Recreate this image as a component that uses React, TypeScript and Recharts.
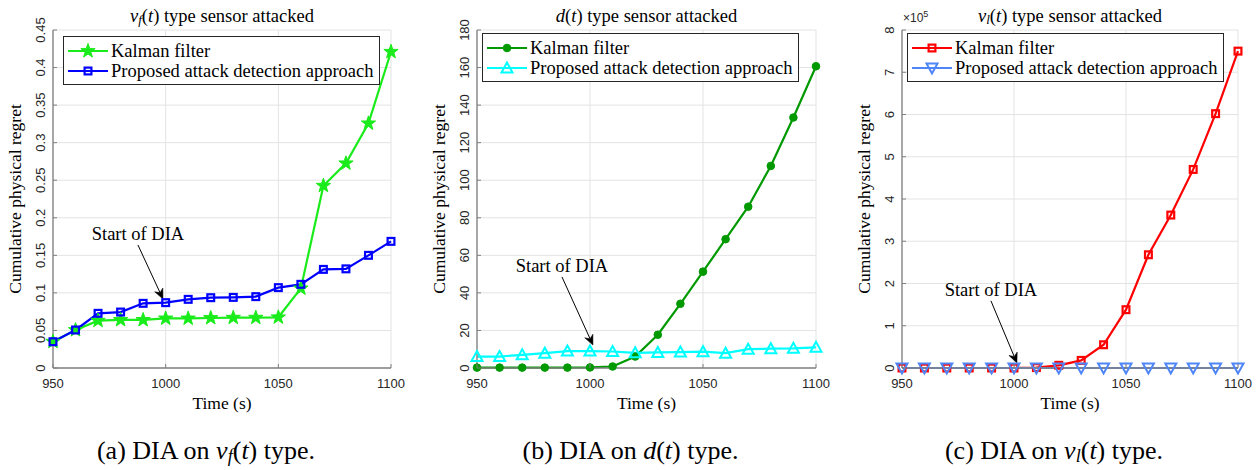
import React from "react"
import { LineChart, Line, XAxis, YAxis, CartesianGrid, Legend, ReferenceLine } from "recharts"

// time stamps (s)
const TIME = [950, 960, 970, 980, 990, 1000, 1010, 1020, 1030, 1040, 1050, 1060, 1070, 1080, 1090, 1100]
const TIME_TICKS = [950, 1000, 1050, 1100]

// (a) v_f(t) sensor attacked
const KF_VF = [0.035, 0.0506, 0.063, 0.064, 0.064, 0.066, 0.066, 0.0666, 0.067, 0.067, 0.0675, 0.106, 0.2427, 0.2725, 0.3257, 0.421]
const PROP_VF = [0.035, 0.0506, 0.0728, 0.0745, 0.0861, 0.087, 0.0914, 0.0936, 0.094, 0.095, 0.107, 0.1114, 0.1313, 0.132, 0.15, 0.1686]
const TICKS_VF = [0, 0.05, 0.1, 0.15, 0.2, 0.25, 0.3, 0.35, 0.4, 0.45]

// (b) d(t) sensor attacked
const KF_D = [0.2, 0.2, 0.2, 0.2, 0.2, 0.3, 0.8, 6.1, 17.7, 34.2, 51.3, 68.6, 85.9, 107.6, 133.4, 160.7]
const PROP_D = [6.1, 6.1, 7, 7.9, 9, 9, 8.8, 8.1, 8.3, 8.5, 8.7, 7.9, 10, 10.3, 10.5, 11]
const TICKS_D = [0, 20, 40, 60, 80, 100, 120, 140, 160, 180]

// (c) v_l(t) sensor attacked
const KF_VL = [0, 0, 0, 0, 0, 0, 1000, 6400, 18000, 55000, 138000, 268000, 362000, 470000, 602000, 750000]
const PROP_VL = [0, 0, 0, 0, 0, 0, 0, 0, 0, 0, 0, 0, 0, 0, 0, 0]
const TICKS_VL = [0, 100000, 200000, 300000, 400000, 500000, 600000, 700000, 800000]

// "Start of DIA" arrows: [tail time, tail value, tip time, tip value]
const DIA_VF = [987.7, 0.1638, 998.8, 0.0919]
const DIA_D = [987.6, 48.5, 1001.3, 12.2]
const DIA_VL = [989.7, 159000, 1001.3, 11900]

const AXIS = "#808080"
const GRID = "#e3e3e3"
const TXT = "#262626"
const SERIF = "'Liberation Serif', 'DejaVu Serif', 'Times New Roman', serif"
const SANS = "'Liberation Sans', Arial, sans-serif"

type Shape = "star" | "square" | "circle" | "triUp" | "triDown"

function Marker({ cx, cy, shape, color }: { cx: number; cy: number; shape: Shape; color: string }) {
  if (cx == null || cy == null || isNaN(cx) || isNaN(cy)) return null
  if (shape === "star") {
    const pts: string[] = []
    for (let i = 0; i < 10; i++) {
      const r = i % 2 === 0 ? 7.5 : 3
      const a = -Math.PI / 2 + (i * Math.PI) / 5
      pts.push(`${cx + r * Math.cos(a)},${cy + r * Math.sin(a)}`)
    }
    return <polygon points={pts.join(" ")} fill={color} stroke={color} strokeWidth={1} />
  }
  if (shape === "square") {
    return <rect x={cx - 3.4} y={cy - 3.4} width={6.8} height={6.8} fill="none" stroke={color} strokeWidth={2.2} />
  }
  if (shape === "circle") {
    return <circle cx={cx} cy={cy} r={3.8} fill={color} stroke={color} strokeWidth={1} />
  }
  const s = shape === "triUp" ? 1 : -1
  const pts = `${cx},${cy - s * 5.5} ${cx - 5.5},${cy + s * 4.5} ${cx + 5.5},${cy + s * 4.5}`
  return <polygon points={pts} fill="none" stroke={color} strokeWidth={2} strokeLinejoin="miter" />
}

function BottomTick(props: any) {
  const { x, y, payload } = props
  return (
    <g>
      <line x1={x} y1={y} x2={x} y2={y - 4} stroke={AXIS} />
      <text x={x} y={y + 15} dy="0.35em" textAnchor="middle" fontSize={13} fill={TXT} fontFamily={SANS}>
        {payload.value}
      </text>
    </g>
  )
}

function TopTick(props: any) {
  const { x, y } = props
  return <line x1={x} y1={y} x2={x} y2={y + 4} stroke={AXIS} />
}

function RightTick(props: any) {
  const { x, y } = props
  return <line x1={x} y1={y} x2={x - 4} y2={y} stroke={AXIS} />
}

function makeLeftTick(fmt: (v: number) => string) {
  return (props: any) => {
    const { x, y, payload } = props
    const tx = x - 13
    return (
      <g>
        <line x1={x} y1={y} x2={x + 4} y2={y} stroke={AXIS} />
        <text
          x={tx}
          y={y}
          dy="0.35em"
          textAnchor="middle"
          fontSize={13}
          fill={TXT}
          fontFamily={SANS}
          transform={`rotate(-90, ${tx}, ${y})`}
        >
          {fmt(payload.value)}
        </text>
      </g>
    )
  }
}

function Arrow(props: any) {
  const { x1, y1, x2, y2 } = props
  const dx = x2 - x1
  const dy = y2 - y1
  const len = Math.sqrt(dx * dx + dy * dy) || 1
  const ux = dx / len
  const uy = dy / len
  const hl = 10
  const hw = 4.5
  const bx = x2 - ux * hl
  const by = y2 - uy * hl
  const head = `${x2},${y2} ${bx - uy * hw},${by + ux * hw} ${bx + ux * 3},${by + uy * 3} ${bx + uy * hw},${by - ux * hw}`
  return (
    <g>
      <line x1={x1} y1={y1} x2={bx + ux * 3} y2={by + uy * 3} stroke="#000" strokeWidth={1} />
      <polygon points={head} fill="#000" stroke="#000" strokeWidth={0.5} />
      <text x={x1} y={y1 - 5} textAnchor="middle" fontSize={18.5} fontFamily={SERIF} fill="#000">
        Start of DIA
      </text>
    </g>
  )
}

type Series = { name: string; values: number[]; color: string; shape: Shape }

function LegendBox({ series }: { series: Series[] }) {
  return (
    <div
      style={{
        border: "1px solid #262626",
        background: "#fff",
        padding: "4px 5px 3px 2px",
        fontFamily: SERIF,
        fontSize: 18.5,
        color: "#000",
        whiteSpace: "nowrap",
      }}
    >
      {series.map((s) => (
        <div key={s.name} style={{ display: "flex", alignItems: "center", height: 20 }}>
          <svg width={44} height={20} style={{ flex: "none" }}>
            <line x1={2} y1={10} x2={42} y2={10} stroke={s.color} strokeWidth={2.2} />
            <Marker cx={22} cy={10} shape={s.shape} color={s.color} />
          </svg>
          <span style={{ marginLeft: 1 }}>{s.name}</span>
        </div>
      ))}
    </div>
  )
}

type PanelProps = {
  left: number
  width: number
  plotL: number
  plotR: number
  yDomain: [number, number]
  yTicks: number[]
  fmt: (v: number) => string
  series: Series[]
  dia: number[]
  title: React.ReactNode
  caption: React.ReactNode
  legendPos: { left: number; top: number }
}

const TOP = 30
const BOTTOM = 368
const H = 400

function Panel(p: PanelProps) {
  const data = TIME.map((t, i) => {
    const row: Record<string, number> = { t }
    p.series.forEach((s, k) => {
      row["s" + k] = s.values[i]
    })
    return row
  })
  const yW = p.plotL - p.left
  const rightM = p.left + p.width - p.plotR
  const center = (p.plotL + p.plotR) / 2
  const LeftTick = makeLeftTick(p.fmt)
  return (
    <>
      <div style={{ position: "absolute", left: p.left, top: 0, width: p.width, height: H }}>
        <LineChart width={p.width} height={H} data={data} margin={{ top: TOP, right: rightM, bottom: 0, left: 0 }}>
          <CartesianGrid stroke={GRID} strokeWidth={1} />
          <XAxis
            dataKey="t"
            type="number"
            domain={[950, 1100]}
            ticks={TIME_TICKS}
            interval={0}
            height={H - BOTTOM}
            tickSize={0}
            tickMargin={0}
            tick={<BottomTick />}
            axisLine={{ stroke: AXIS, strokeWidth: 1.3 }}
            tickLine={false}
          />
          <XAxis
            xAxisId="top"
            orientation="top"
            type="number"
            domain={[950, 1100]}
            ticks={TIME_TICKS}
            interval={0}
            height={0}
            tickSize={0}
            tickMargin={0}
            tick={<TopTick />}
            axisLine={{ stroke: AXIS, strokeWidth: 1.3 }}
            tickLine={false}
          />
          <YAxis
            type="number"
            domain={p.yDomain}
            ticks={p.yTicks}
            interval={0}
            width={yW}
            tickSize={0}
            tickMargin={0}
            tick={<LeftTick />}
            axisLine={{ stroke: AXIS, strokeWidth: 1.3 }}
            tickLine={false}
          />
          <YAxis
            yAxisId="right"
            orientation="right"
            type="number"
            domain={p.yDomain}
            ticks={p.yTicks}
            interval={0}
            width={0}
            tickSize={0}
            tickMargin={0}
            tick={<RightTick />}
            axisLine={{ stroke: AXIS, strokeWidth: 1.3 }}
            tickLine={false}
          />
          {p.series.map((s, k) => (
            <Line
              key={s.name}
              dataKey={"s" + k}
              name={s.name}
              stroke={s.color}
              strokeWidth={2.2}
              isAnimationActive={false}
              dot={(d: any) => <Marker key={d.index} cx={d.cx} cy={d.cy} shape={s.shape} color={s.color} />}
              activeDot={false}
            />
          ))}
          <ReferenceLine
            segment={[
              { x: p.dia[0], y: p.dia[1] },
              { x: p.dia[2], y: p.dia[3] },
            ]}
            shape={(sp: any) => <Arrow {...sp} />}
          />
          <Legend
            layout="horizontal"
            verticalAlign="middle"
            align="center"
            wrapperStyle={{ left: p.legendPos.left, top: p.legendPos.top, width: "auto", height: "auto" }}
            content={() => <LegendBox series={p.series} />}
          />
        </LineChart>
      </div>
      <div
        style={{
          position: "absolute",
          left: center,
          top: 5,
          transform: "translateX(-50%)",
          fontFamily: SERIF,
          fontSize: 18.5,
          lineHeight: "22px",
          whiteSpace: "nowrap",
          color: "#000",
        }}
      >
        {p.title}
      </div>
      <div
        style={{
          position: "absolute",
          left: p.plotL - 38,
          top: (TOP + BOTTOM) / 2,
          transform: "translate(-50%, -50%) rotate(-90deg)",
          fontFamily: SERIF,
          fontSize: 17.5,
          lineHeight: "20px",
          whiteSpace: "nowrap",
          color: "#000",
        }}
      >
        Cumulative physical regret
      </div>
      <div
        style={{
          position: "absolute",
          left: center,
          top: 393,
          transform: "translateX(-50%)",
          fontFamily: SERIF,
          fontSize: 17.5,
          lineHeight: "20px",
          whiteSpace: "nowrap",
          color: "#000",
        }}
      >
        Time (s)
      </div>
      <div
        style={{
          position: "absolute",
          left: center - 16,
          top: 436,
          transform: "translateX(-50%)",
          fontFamily: SERIF,
          fontSize: 26,
          lineHeight: "30px",
          whiteSpace: "nowrap",
          color: "#000",
        }}
      >
        {p.caption}
      </div>
    </>
  )
}

const mi = (s: string) => <i>{s}</i>
const sub = (s: string) => (
  <span style={{ fontSize: "0.7em", verticalAlign: "-0.18em", lineHeight: 0 }}>{mi(s)}</span>
)

export default function App() {
  return (
    <div style={{ position: "absolute", left: 0, top: 0, width: 1256, height: 470, background: "#fff", overflow: "hidden" }}>
      <Panel
        left={0}
        width={420}
        plotL={53}
        plotR={391}
        yDomain={[0, 0.45]}
        yTicks={TICKS_VF}
        fmt={(v) => String(v)}
        series={[
          { name: "Kalman filter", values: KF_VF, color: "#1aeb1a", shape: "star" },
          { name: "Proposed attack detection approach", values: PROP_VF, color: "#0000ff", shape: "square" },
        ]}
        dia={DIA_VF}
        legendPos={{ left: 63, top: 36 }}
        title={<>{mi("v")}{sub("f")}({mi("t")}) type sensor attacked</>}
        caption={<>(a) DIA on {mi("v")}{sub("f")}({mi("t")}) type.</>}
      />
      <Panel
        left={420}
        width={420}
        plotL={477}
        plotR={816}
        yDomain={[0, 180]}
        yTicks={TICKS_D}
        fmt={(v) => String(v)}
        series={[
          { name: "Kalman filter", values: KF_D, color: "#009900", shape: "circle" },
          { name: "Proposed attack detection approach", values: PROP_D, color: "#00ffff", shape: "triUp" },
        ]}
        dia={DIA_D}
        legendPos={{ left: 62, top: 33 }}
        title={<>{mi("d")}({mi("t")}) type sensor attacked</>}
        caption={<>(b) DIA on {mi("d")}({mi("t")}) type.</>}
      />
      <Panel
        left={840}
        width={416}
        plotL={902}
        plotR={1238}
        yDomain={[0, 800000]}
        yTicks={TICKS_VL}
        fmt={(v) => String(v / 100000)}
        series={[
          { name: "Kalman filter", values: KF_VL, color: "#ff0000", shape: "square" },
          { name: "Proposed attack detection approach", values: PROP_VL, color: "#4f86f7", shape: "triDown" },
        ]}
        dia={DIA_VL}
        legendPos={{ left: 67, top: 33 }}
        title={<>{mi("v")}{sub("l")}({mi("t")}) type sensor attacked</>}
        caption={<>(c) DIA on {mi("v")}{sub("l")}({mi("t")}) type.</>}
      />
      <div style={{ position: "absolute", left: 903, top: 10, fontFamily: SANS, fontSize: 12, color: TXT, lineHeight: "16px" }}>
        ×10<sup style={{ fontSize: "0.75em", lineHeight: 0 }}>5</sup>
      </div>
    </div>
  )
}
